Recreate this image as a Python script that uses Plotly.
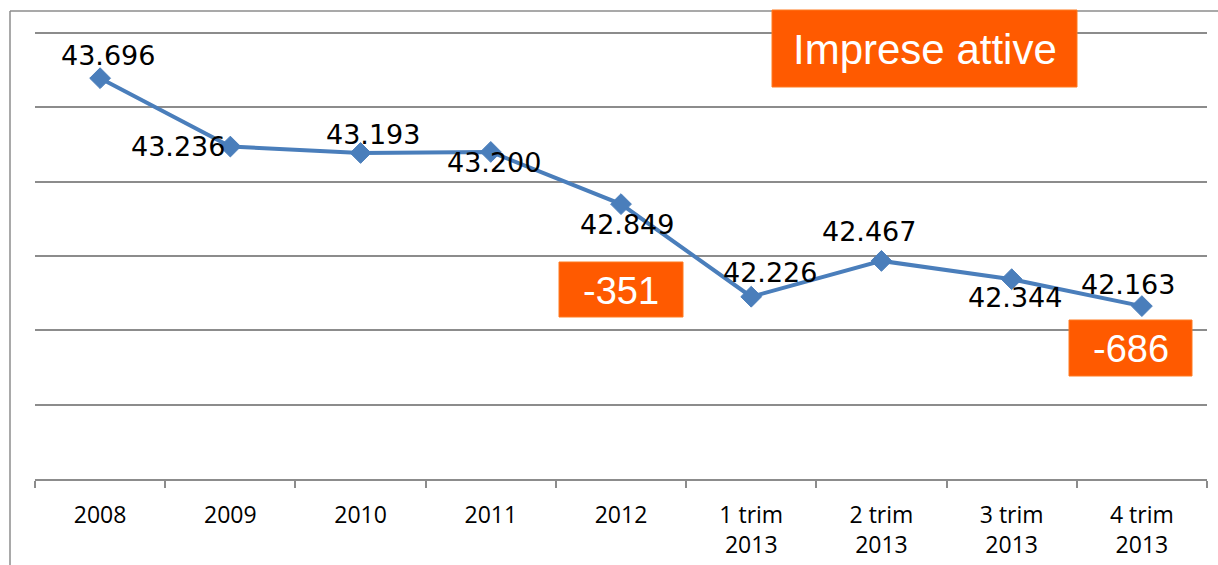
import plotly.graph_objects as go

categories = ["2008", "2009", "2010", "2011", "2012",
              "1 trim<br>2013", "2 trim<br>2013", "3 trim<br>2013", "4 trim<br>2013"]
values = [43.696, 43.236, 43.193, 43.200, 42.849, 42.226, 42.467, 42.344, 42.163]
value_labels = ["43.696", "43.236", "43.193", "43.200", "42.849",
                "42.226", "42.467", "42.344", "42.163"]
title_text = "Imprese attive"
delta_labels = ["-351", "-686"]
y_min, y_max, y_step = 41.0, 44.0, 0.5

# label offsets in pixels (dx, dy with dy positive = up)
label_offsets = [(8, 23), (-52, 0), (12, 18), (3, -11), (6, -20),
                 (19, 24), (-12, 29), (3, -18), (-14, 22)]

W, H = 1218, 565
L, R, T, B = 35, 11, 30, 86
PW, PH = W - L - R, H - T - B
GRID_TOP_PX = 33  # pixel row of the top gridline
y_top = y_max + (GRID_TOP_PX - T) * (y_max - y_min) / (H - B - GRID_TOP_PX)


def px(X):
    return (X - L) / PW


def py(Y):
    return (H - B - Y) / PH


LINE_BLUE = "#4A7EBB"
GRID = "#8C8C8C"
ORANGE = "#FF5A00"

fig = go.Figure()
fig.add_trace(go.Scatter(
    x=categories, y=values, mode="lines+markers",
    line=dict(color=LINE_BLUE, width=4),
    marker=dict(symbol="diamond", size=16, color=LINE_BLUE,
                line=dict(color=LINE_BLUE, width=1)),
    hoverinfo="skip", showlegend=False,
))

annotations = []
for i, (v, t, (dx, dy)) in enumerate(zip(values, value_labels, label_offsets)):
    annotations.append(dict(
        x=i, y=v, xref="x", yref="y", text=t, showarrow=False,
        xshift=dx, yshift=dy,
        font=dict(family="DejaVu Sans", size=27, color="black"),
    ))

shapes = [
    # outer frame (left and top)
    dict(type="line", xref="paper", yref="paper",
         x0=px(10), x1=px(10), y0=py(565), y1=py(11),
         line=dict(color=GRID, width=1.5)),
    dict(type="line", xref="paper", yref="paper",
         x0=px(10), x1=px(1218), y0=py(11), y1=py(11),
         line=dict(color=GRID, width=1.5)),
]

boxes = [
    (772, 1077, 10, 87, title_text, 42),
    (559, 683, 262, 317, delta_labels[0], 38),
    (1069, 1192, 320, 376, delta_labels[1], 38),
]
for x0, x1, y0, y1, txt, fs in boxes:
    shapes.append(dict(type="rect", xref="paper", yref="paper",
                       x0=px(x0), x1=px(x1), y0=py(y1), y1=py(y0),
                       fillcolor=ORANGE, line=dict(color="#FF7A20", width=1),
                       layer="above"))
    annotations.append(dict(
        x=px((x0 + x1) / 2), y=py((y0 + y1) / 2 + 1), xref="paper", yref="paper",
        text=txt, showarrow=False, xanchor="center", yanchor="middle",
        font=dict(family="Liberation Sans", size=fs, color="white"),
    ))

fig.update_layout(
    width=W, height=H,
    margin=dict(l=L, r=R, t=T, b=B, pad=0, autoexpand=False),
    paper_bgcolor="white", plot_bgcolor="white",
    shapes=shapes, annotations=annotations,
    xaxis=dict(
        type="category", tickson="boundaries", ticks="outside", ticklen=7,
        tickcolor=GRID, tickwidth=1.5, showline=True, linecolor=GRID, linewidth=1.5,
        showgrid=False, range=[-0.5, len(categories) - 0.5], automargin=False,
        tickfont=dict(family="Open Sans", size=23, color="black"),
        ticklabelstandoff=15,
    ),
    yaxis=dict(
        range=[y_min, y_top], dtick=y_step, tick0=y_min, showticklabels=False,
        showgrid=True, gridcolor=GRID, gridwidth=1.5, zeroline=False,
        showline=False, ticks="", automargin=False,
    ),
)

fig.write_html(
    "out.html",
    config={"displayModeBar": False},
    post_script="document.body.style.margin='0';document.body.style.padding='0';",
)
